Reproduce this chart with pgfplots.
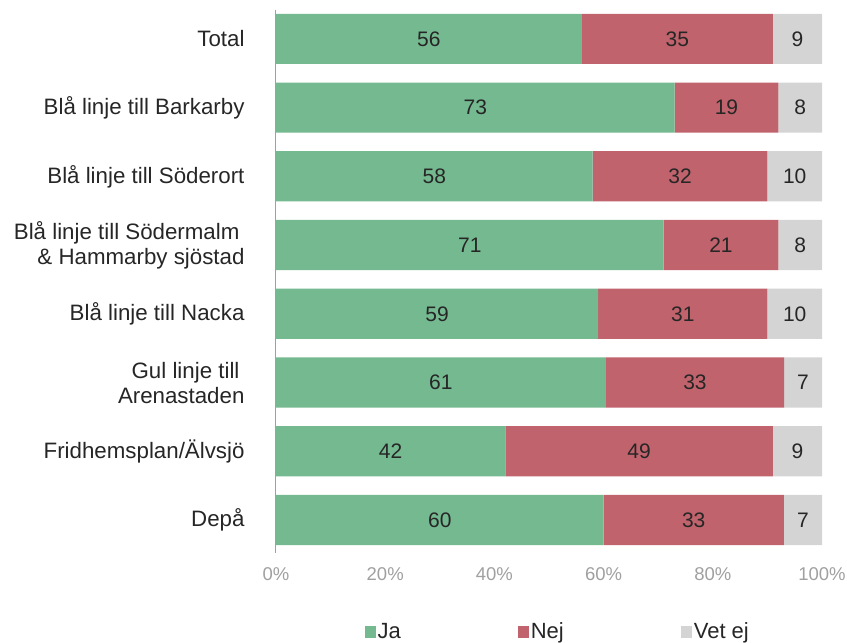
\documentclass[border=0pt]{standalone}
\usepackage{pgfplots}
\pgfplotsset{compat=1.18}
\usepackage{pgfplotstable}
\usepackage{fontspec}
\setmainfont{Liberation Sans}
\definecolor{cja}{HTML}{75B990}
\definecolor{cnej}{HTML}{C0636C}
\definecolor{cvet}{HTML}{D4D4D4}
\definecolor{ctxt}{HTML}{262626}
\definecolor{ctick}{HTML}{A0A0A0}
\pgfplotstableread{
y ja nej vet
7 56 35 9
6 73 19 8
5 58 32 10
4 71 21 8
3 59 31 10
2 61 33 7
1 42 49 9
0 60 33 7
}\data
\begin{document}
\begin{tikzpicture}
\begin{axis}[
  scale only axis,
  width=546pt, height=543pt,
  xbar stacked,
  bar width=0.73,
  xmin=0, xmax=100,
  ymin=-0.48, ymax=7.42,
  xtick={0,20,40,60,80,100},
  xticklabel={\pgfmathprintnumber{\tick}\%},
  ytick={0,1,2,3,4,5,6,7},
  yticklabels={Depå, Fridhemsplan/Älvsjö, {Gul linje till\kern5pt\\Arenastaden}, Blå linje till Nacka, {Blå linje till Södermalm\kern5pt\\\& Hammarby sjöstad}, Blå linje till Söderort, Blå linje till Barkarby, Total},
  yticklabel style={align=right, font=\fontsize{22.3}{25}\selectfont, text=ctxt, xshift=-28pt},
  xticklabel style={font=\fontsize{18.5}{22}\selectfont, text=ctick, yshift=-11pt},
  /pgf/number format/assume math mode=true,
  major tick length=0pt,
  axis lines*=left,
  x axis line style={draw=none},
  y axis line style={draw=ctick, line width=1pt},
  legend columns=3,
  legend style={at={(0.516,-0.145)}, anchor=center, draw=none, fill=none,
    font=\fontsize{22}{26}\selectfont, text=ctxt,
    /tikz/every even column/.append style={column sep=115pt}},
  legend cell align=left,
  legend image code/.code={\path[#1] (0pt,-6pt) rectangle (11pt,6pt);},
  nodes near coords,
  point meta=explicit,
  every node near coord/.append style={anchor=center, font=\fontsize{21}{24}\selectfont, text=ctxt},
]
\addplot[fill=cja, draw=none] table[x expr=100*\thisrow{ja}/(\thisrow{ja}+\thisrow{nej}+\thisrow{vet}), y=y, meta=ja] {\data};
\addplot[fill=cnej, draw=none] table[x expr=100*\thisrow{nej}/(\thisrow{ja}+\thisrow{nej}+\thisrow{vet}), y=y, meta=nej] {\data};
\addplot[fill=cvet, draw=none] table[x expr=100*\thisrow{vet}/(\thisrow{ja}+\thisrow{nej}+\thisrow{vet}), y=y, meta=vet] {\data};
\legend{Ja, Nej, Vet ej}
\end{axis}
\pgfresetboundingbox
\path[use as bounding box] ([shift={(-276pt,-90pt)}]current axis.south west) rectangle ([shift={(25pt,10pt)}]current axis.north east);
\end{tikzpicture}
\end{document}
